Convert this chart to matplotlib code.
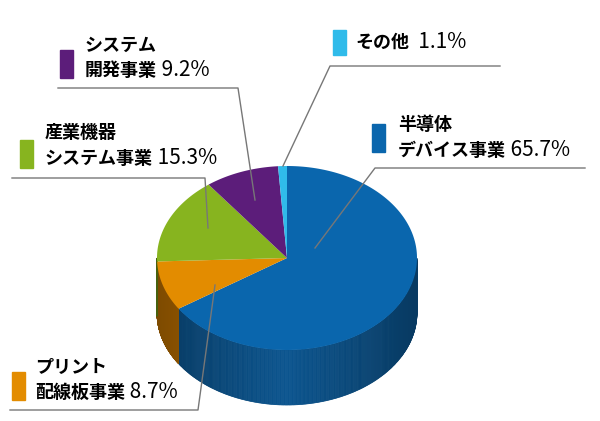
import numpy as np
import matplotlib.pyplot as plt
from matplotlib.colors import to_rgb

plt.rcParams['font.family'] = ['Noto Sans CJK JP', 'DejaVu Sans']

# data (clockwise from top)
names = ["半導体\nデバイス事業", "プリント\n配線板事業", "産業機器\nシステム事業", "システム\n開発事業", "その他"]
values = [65.7, 8.7, 15.3, 9.2, 1.1]
top_colors = ["#0a66ad", "#e38c00", "#87b41f", "#5c1d7a", "#30bbea"]
side_colors = ["#0a4d82", "#a76300", "#5f8214", "#3f1055", "#1d86ab"]

cx, cy, rx, ry, depth = 287, 258, 130, 92, 55

def pt(t):
    return cx + rx * np.cos(t), cy - ry * np.sin(t)

fig = plt.figure(figsize=(6, 4.21), dpi=100)
ax = fig.add_axes([0, 0, 1, 1])
ax.set_xlim(0, 600)
ax.set_ylim(421, 0)
ax.axis('off')

fr = np.array(values) / sum(values)
starts = np.pi / 2 - 2 * np.pi * np.concatenate([[0], np.cumsum(fr)[:-1]])
ends = starts - 2 * np.pi * fr

# side walls
for s, e, c in zip(starts, ends, side_colors):
    ts = np.linspace(e, s, 400)
    base = np.array(to_rgb(c))
    for a, b in zip(ts[:-1], ts[1:]):
        m = (a + b) / 2
        if np.sin(m) >= 0:
            continue
        shade = 0.75 + 0.35 * (1 - abs(np.cos(m)))
        col = np.clip(base * shade, 0, 1)
        x1, y1 = pt(a); x2, y2 = pt(b)
        ax.fill([x1, x2, x2, x1], [y1, y2, y2 + depth, y1 + depth], color=col, lw=0.5, ec=col)

# top
for s, e, c in zip(starts, ends, top_colors):
    ts = np.linspace(s, e, 200)
    xs, ys = pt(ts)
    ax.fill(np.r_[cx, xs], np.r_[cy, ys], color=c, lw=0)

# labels: text pos, square, leader line points
fs = 13
lab = [
    ((398, 138), (372, 124), [(585, 168), (375, 168), (315, 248)]),
    ((35, 380), (12, 372), [(10, 410), (198, 410), (215, 285)]),
    ((45, 146), (20, 140), [(12, 178), (205, 178), (208, 228)]),
    ((85, 58), (60, 50), [(58, 88), (238, 88), (255, 200)]),
    ((355, 42), (333, 30), [(500, 66), (330, 66), (283, 166)]),
]
for name, v, c, (tp, sq, ln) in zip(names, values, top_colors, lab):
    h = 28 if "\n" in name else 25
    ax.add_patch(plt.Rectangle(sq, 13, h, color=c))
    first, *rest = name.split("\n")
    if rest:
        ax.text(tp[0], tp[1] - 13, first, fontsize=fs, fontweight='bold', va='center', ha='left')
        t = ax.text(tp[0], tp[1] + 12, rest[0], fontsize=fs, fontweight='bold', va='center', ha='left')
        ax.annotate(f" {v}%", xycoords=t, xy=(1, 0.5), va='center', fontsize=15)
    else:
        t = ax.text(tp[0], tp[1], first, fontsize=fs, fontweight='bold', va='center', ha='left')
        ax.annotate(f"  {v}%", xycoords=t, xy=(1, 0.5), va='center', fontsize=15)
    xs, ys = zip(*ln)
    ax.plot(xs, ys, color='#777777', lw=1)

fig.savefig("out.png", dpi=100)
